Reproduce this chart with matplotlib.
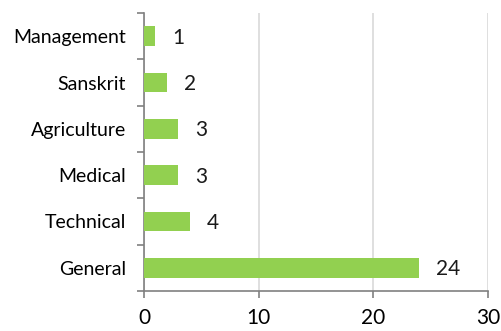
import matplotlib
matplotlib.use("Agg")
import matplotlib.pyplot as plt
import numpy as np

categories = ["Management", "Sanskrit", "Agriculture", "Medical", "Technical", "General"]
counts = [1, 2, 3, 3, 4, 24]
xticks = [0, 10, 20, 30]

plt.rcParams['font.family'] = ['Lato', 'DejaVu Sans']

fig = plt.figure(figsize=(5.02, 3.31), dpi=100)
ax = fig.add_axes([144 / 502, 1 - 291 / 331, 344 / 502, 278 / 331])

y = np.arange(len(categories))[::-1]
ax.barh(y, counts, height=0.42, color="#92D050", zorder=3)
for yi, c in zip(y, counts):
    ax.annotate(str(c), (c, yi), xytext=(12, -1), textcoords="offset points",
                ha="left", va="center", fontsize=15, color="#1a1a1a")

ax.set_xlim(0, 30)
ax.set_ylim(-0.5, len(categories) - 0.5)
ax.set_xticks(xticks)
ax.set_xticklabels([str(t) for t in xticks], fontsize=15)
ax.set_yticks(y)
ax.set_yticklabels(categories, fontsize=14)
ax.set_yticks(np.arange(-0.5, len(categories), 1), minor=True)
ax.tick_params(axis="y", which="major", length=0, pad=13)
ax.tick_params(axis="y", which="minor", length=5, color="#808080", width=1.2, direction="out")
ax.tick_params(axis="x", length=5, color="#808080", width=1.2, pad=7)

ax.grid(axis="x", color="#d9d9d9", linewidth=1.2, zorder=0)
for s in ["top", "right"]:
    ax.spines[s].set_visible(False)
for s in ["left", "bottom"]:
    ax.spines[s].set_color("#808080")
    ax.spines[s].set_linewidth(1.2)

fig.savefig("out.png", dpi=100)
